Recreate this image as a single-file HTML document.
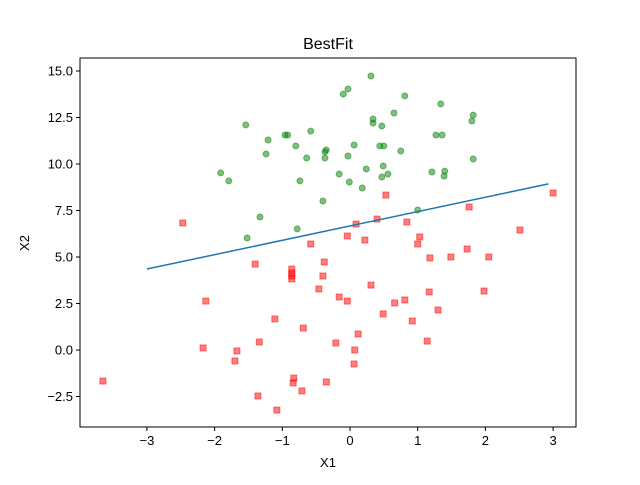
<!DOCTYPE html>
<html><head><meta charset="utf-8"><style>
body{margin:0;background:#fff;}
svg{font-family:"Liberation Sans","DejaVu Sans",sans-serif;}
</style></head><body>
<svg id="chart" width="640" height="480" xmlns="http://www.w3.org/2000/svg">
<rect width="640" height="480" fill="#fff"/>
<text x="328" y="49" text-anchor="middle" font-size="16">BestFit</text>
<g id="plot"></g>
<g id="axes"></g>
<text x="328" y="467" text-anchor="middle" font-size="13">X1</text>
<text x="29" y="243" text-anchor="middle" font-size="13" transform="rotate(-90 29 243)">X2</text>
</svg>
<script>
const xTicks=[-3,-2,-1,0,1,2,3];
const yTicks=[-2.5,0,2.5,5,7.5,10,12.5,15];
const yTickLabels=["−2.5","0.0","2.5","5.0","7.5","10.0","12.5","15.0"];
const xTickLabels=["−3","−2","−1","0","1","2","3"];
const greenX=[0.31,-0.03,-0.10,0.81,1.34,0.65,0.34,0.34,0.47,-1.54,-0.58,-0.92,-0.96,-1.21,-0.80,-0.35,0.44,0.50,0.06,0.75,1.80,1.82,1.36,1.27,-1.24,-0.64,-0.37,-0.03,-0.37,1.82,1.21,0.24,-0.16,-1.91,-1.79,-0.74,-0.01,0.47,0.56,0.49,0.18,1.39,1.40,-0.40,1.00,-1.33,-0.78,-1.52];
const greenY=[14.73,14.03,13.76,13.66,13.23,12.74,12.42,12.20,12.04,12.10,11.77,11.56,11.56,11.29,10.97,10.75,10.97,10.97,11.02,10.70,12.31,12.63,11.56,11.56,10.54,10.32,10.65,10.43,10.32,10.27,9.57,9.73,9.46,9.52,9.09,9.09,9.03,9.30,9.46,9.89,8.71,9.35,9.62,8.01,7.53,7.15,6.51,6.02];
const redX=[3.0,0.53,1.76,-2.47,0.40,0.84,0.09,2.51,-0.04,1.03,0.22,-0.58,1.00,1.73,-1.40,-0.38,-0.86,-0.86,-0.86,-0.86,1.49,2.05,1.18,-0.40,-0.46,0.31,-0.16,-0.04,-2.13,0.81,0.66,1.17,1.98,1.30,0.49,0.92,-1.11,-0.69,0.12,1.14,-1.34,-0.21,-2.17,-1.67,0.07,-1.70,0.06,-3.65,-0.83,-0.84,-0.35,-0.71,-1.36,-1.08];
const redY=[8.44,8.33,7.69,6.83,7.04,6.88,6.77,6.45,6.13,6.08,5.91,5.70,5.70,5.43,4.62,4.73,4.35,4.14,3.98,3.82,5.00,5.00,4.95,3.98,3.28,3.49,2.85,2.63,2.63,2.69,2.53,3.12,3.17,2.15,1.94,1.56,1.67,1.18,0.86,0.48,0.43,0.38,0.11,-0.05,0.0,-0.59,-0.75,-1.67,-1.51,-1.77,-1.72,-2.20,-2.47,-3.23];
const fitRange=[-3,2.93];
const fitCoef=[6.67,0.772];
const NS="http://www.w3.org/2000/svg";
const L=80,R=576,T=58,B=427;
function sx(v){return 350+v*67.7;}
function sy(v){return 350-v*18.6;}
function mk(t,a,p){const e=document.createElementNS(NS,t);for(const k in a)e.setAttribute(k,a[k]);(p||document.getElementById('plot')).appendChild(e);return e;}
const plot=document.getElementById('plot'),axes=document.getElementById('axes');
greenX.forEach((x,i)=>{const c=mk('circle',{cx:sx(x),cy:sy(greenY[i]),r:3,fill:'rgba(0,128,0,0.5)',stroke:'rgba(0,128,0,0.5)','stroke-width':1});

});
redX.forEach((x,i)=>{const c=mk('rect',{x:sx(x)-3,y:sy(redY[i])-3,width:6,height:6,fill:'rgba(255,0,0,0.5)',stroke:'rgba(255,0,0,0.5)','stroke-width':1});

});
const ln=mk('line',{x1:sx(fitRange[0]),y1:sy(fitCoef[0]+fitCoef[1]*fitRange[0]),x2:sx(fitRange[1]),y2:sy(fitCoef[0]+fitCoef[1]*fitRange[1]),stroke:'#1f77b4','stroke-width':1.5});


const fr=mk('rect',{x:L,y:T,width:R-L,height:B-T,fill:'none',stroke:'#000','stroke-width':1},axes);


xTicks.forEach((v,i)=>{mk('line',{x1:sx(v),y1:B,x2:sx(v),y2:B+4,stroke:'#000'},axes);
const t=mk('text',{x:sx(v),y:B+18,'text-anchor':'middle','font-size':13},axes);t.textContent=xTickLabels[i];

});
yTicks.forEach((v,i)=>{mk('line',{x1:L-4,y1:sy(v),x2:L,y2:sy(v),stroke:'#000'},axes);
const t=mk('text',{x:L-7,y:sy(v)+4.5,'text-anchor':'end','font-size':13},axes);t.textContent=yTickLabels[i];

});
</script>
</body></html>
